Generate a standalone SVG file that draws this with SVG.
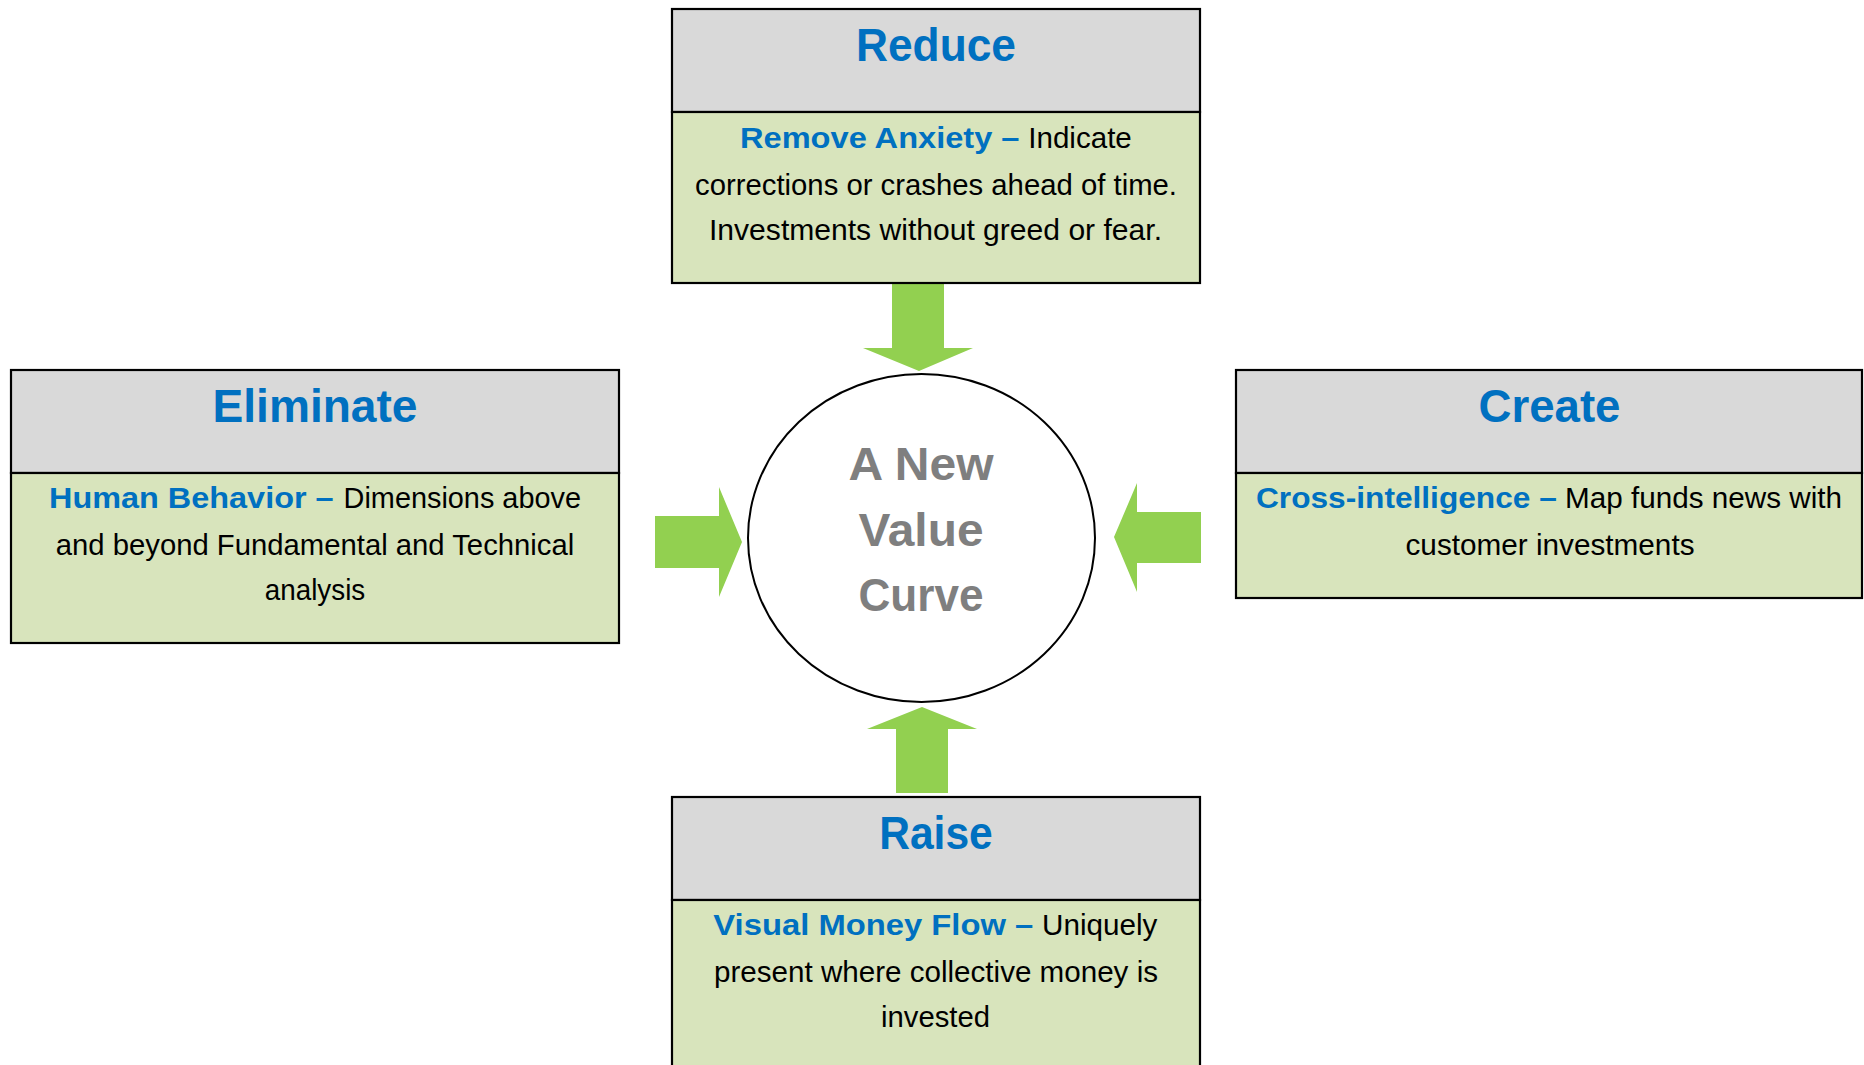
<svg xmlns="http://www.w3.org/2000/svg" width="1864" height="1065" viewBox="0 0 1864 1065">
<style>
.hdr{fill:#d9d9d9;stroke:#000;stroke-width:2.2}
.bod{fill:#d8e4bc;stroke:#000;stroke-width:2.2}
.ttl{font-family:"Liberation Sans",Arial,sans-serif;font-weight:bold;font-size:47px;fill:#0070c0;text-anchor:middle}
.key{font-family:"Liberation Sans",Arial,sans-serif;font-weight:bold;font-size:29px;fill:#0070c0}
.txt{font-family:"Liberation Sans",Arial,sans-serif;font-size:29px;fill:#000}
.mid{text-anchor:middle}
.ctr{font-family:"Liberation Sans",Arial,sans-serif;font-weight:bold;font-size:46px;fill:#7f7f7f;text-anchor:middle}
.arr{fill:#92d050}
</style>
<rect width="1864" height="1065" fill="#fff"/>
<g id="connectors">
<polygon class="arr" points="892,283 944,283 944,348 973,348 919,371 863,348 892,348"/>
<polygon class="arr" points="896,793 948,793 948,729 977,729 922,707 867,729 896,729"/>
<polygon class="arr" points="655,516 719,516 719,487 742,542 719,597 719,568 655,568"/>
<polygon class="arr" points="1201,512 1137,512 1137,483 1114,537 1137,592 1137,563 1201,563"/>
</g>
<g id="center">
<ellipse cx="921.5" cy="538" rx="173.5" ry="164" fill="#fff" stroke="#000" stroke-width="2"/>
<text class="ctr" x="921" y="480" textLength="145" lengthAdjust="spacingAndGlyphs">A New</text>
<text class="ctr" x="921" y="545.5" textLength="125" lengthAdjust="spacingAndGlyphs">Value</text>
<text class="ctr" x="921" y="611" textLength="125" lengthAdjust="spacingAndGlyphs">Curve</text>
</g>
<g id="reduce">
<rect class="hdr" x="672" y="9" width="528" height="103"/>
<rect class="bod" x="672" y="112" width="528" height="171"/>
<text class="ttl" x="936" y="61" textLength="160" lengthAdjust="spacingAndGlyphs">Reduce</text>
<text class="key" x="740" y="148" textLength="279.5" lengthAdjust="spacingAndGlyphs">Remove Anxiety –</text>
<text class="txt" x="1028.3" y="148" textLength="103.5" lengthAdjust="spacingAndGlyphs">Indicate</text>
<text class="txt mid" x="936" y="195" textLength="482" lengthAdjust="spacingAndGlyphs">corrections or crashes ahead of time.</text>
<text class="txt mid" x="935.5" y="240" textLength="453" lengthAdjust="spacingAndGlyphs">Investments without greed or fear.</text>
</g>
<g id="eliminate">
<rect class="hdr" x="11" y="370" width="608" height="103"/>
<rect class="bod" x="11" y="473" width="608" height="170"/>
<text class="ttl" x="315" y="422" textLength="205" lengthAdjust="spacingAndGlyphs">Eliminate</text>
<text class="key" x="49" y="508" textLength="284.6" lengthAdjust="spacingAndGlyphs">Human Behavior –</text>
<text class="txt" x="343.6" y="508" textLength="237.4" lengthAdjust="spacingAndGlyphs">Dimensions above</text>
<text class="txt mid" x="315" y="555" textLength="518.5" lengthAdjust="spacingAndGlyphs">and beyond Fundamental and Technical</text>
<text class="txt mid" x="315" y="600" textLength="100.5" lengthAdjust="spacingAndGlyphs">analysis</text>
</g>
<g id="create">
<rect class="hdr" x="1236" y="370" width="626" height="103"/>
<rect class="bod" x="1236" y="473" width="626" height="125"/>
<text class="ttl" x="1549.5" y="422" textLength="142" lengthAdjust="spacingAndGlyphs">Create</text>
<text class="key" x="1256" y="508" textLength="300.8" lengthAdjust="spacingAndGlyphs">Cross-intelligence –</text>
<text class="txt" x="1565" y="508" textLength="277" lengthAdjust="spacingAndGlyphs">Map funds news with</text>
<text class="txt mid" x="1550" y="555" textLength="289" lengthAdjust="spacingAndGlyphs">customer investments</text>
</g>
<g id="raise">
<rect class="hdr" x="672" y="797" width="528" height="103"/>
<rect class="bod" x="672" y="900" width="528" height="175"/>
<text class="ttl" x="936" y="848.5" textLength="113.5" lengthAdjust="spacingAndGlyphs">Raise</text>
<text class="key" x="713.3" y="935" textLength="320" lengthAdjust="spacingAndGlyphs">Visual Money Flow –</text>
<text class="txt" x="1042" y="935" textLength="115.4" lengthAdjust="spacingAndGlyphs">Uniquely</text>
<text class="txt mid" x="936" y="982" textLength="444" lengthAdjust="spacingAndGlyphs">present where collective money is</text>
<text class="txt mid" x="935.5" y="1027" textLength="109" lengthAdjust="spacingAndGlyphs">invested</text>
</g>
</svg>
